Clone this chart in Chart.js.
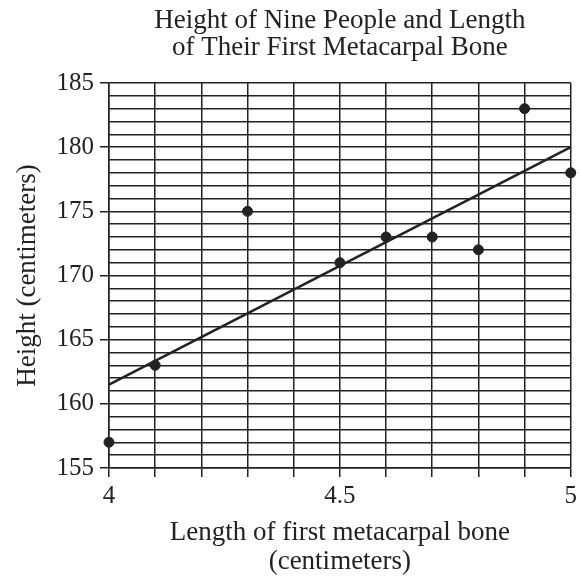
<!DOCTYPE html>
<html>
<head>
<meta charset="utf-8">
<script src="https://cdn.jsdelivr.net/npm/chart.js@4.4.1/dist/chart.umd.min.js"></script>
<style>
    body { margin: 0; background: #fff; }
    canvas { display: block; }
</style>
</head>
<body>
<canvas id="boneChart" width="581" height="579"></canvas>
<script>
        // Data
        const boneLengths = [4.0, 4.1, 4.3, 4.5, 4.6, 4.7, 4.8, 4.9, 5.0];
        const heights = [157, 163, 175, 171, 173, 173, 172, 183, 178];
        const fitX = [4, 5];
        const fitY = [161.5, 180];
        const xLabeled = [4, 4.5, 5];
        const yLabelStep = 5;

        const serif = "'Liberation Serif', 'DejaVu Serif', serif";
        const ink = "#222";

        function createBoneChart() {
            const ctx = document.getElementById("boneChart").getContext("2d");

            new Chart(ctx, {
                type: "scatter",
                data: {
                    datasets: [{
                        type: "line",
                        data: fitX.map((x, i) => ({ x: x, y: fitY[i] })),
                        borderColor: ink,
                        borderWidth: 2.5,
                        pointRadius: 0,
                        fill: false,
                        clip: false,
                        order: 2
                    }, {
                        data: boneLengths.map((x, i) => ({ x: x, y: heights[i] })),
                        backgroundColor: ink,
                        borderColor: ink,
                        pointRadius: 5,
                        clip: false,
                        order: 1
                    }]
                },
                options: {
                    responsive: false,
                    animation: false,
                    layout: {
                        padding: { left: 0, right: 8, top: 0, bottom: 0 }
                    },
                    plugins: {
                        legend: { display: false },
                        tooltip: { enabled: false },
                        title: {
                            display: true,
                            fullSize: false,
                            text: ["Height of Nine People and Length", "of Their First Metacarpal Bone"],
                            color: ink,
                            font: { family: serif, size: 27, weight: "normal", lineHeight: 1.0 },
                            padding: { top: 7, bottom: 22 }
                        }
                    },
                    scales: {
                        x: {
                            type: "linear",
                            min: 4,
                            max: 5,
                            afterFit: scale => { scale.height = 111; },
                            ticks: {
                                stepSize: 0.1,
                                autoSkip: false,
                                maxRotation: 0,
                                padding: 4,
                                color: ink,
                                font: { family: serif, size: 25 },
                                callback: v => xLabeled.some(l => Math.abs(l - v) < 1e-6) ? String(v) : ""
                            },
                            grid: {
                                color: ink,
                                lineWidth: 1.5,
                                tickLength: 9,
                                tickColor: ink
                            },
                            border: { color: ink, width: 1.5 },
                            title: {
                                display: true,
                                text: ["Length of first metacarpal bone", "(centimeters)"],
                                color: ink,
                                font: { family: serif, size: 27, lineHeight: 1.074 },
                                padding: { top: 0, bottom: 2.5 }
                            }
                        },
                        y: {
                            min: 155,
                            max: 185,
                            afterFit: scale => { scale.width = 109; },
                            ticks: {
                                stepSize: 1,
                                autoSkip: false,
                                padding: 6,
                                color: ink,
                                font: { family: serif, size: 25 },
                                callback: v => v % yLabelStep === 0 ? String(v) : ""
                            },
                            grid: {
                                color: ink,
                                lineWidth: 1.5,
                                tickLength: 9,
                                tickColor: c => c.tick && c.tick.value % yLabelStep === 0 ? ink : "rgba(0,0,0,0)"
                            },
                            border: { color: ink, width: 1.5 },
                            title: {
                                display: true,
                                text: "Height (centimeters)",
                                color: ink,
                                font: { family: serif, size: 27, lineHeight: 1.074 },
                                padding: { top: 13, bottom: 0 }
                            }
                        }
                    }
                }
            });
        }

        document.addEventListener("DOMContentLoaded", function() {
            createBoneChart();
        });
</script>
</body>
</html>
